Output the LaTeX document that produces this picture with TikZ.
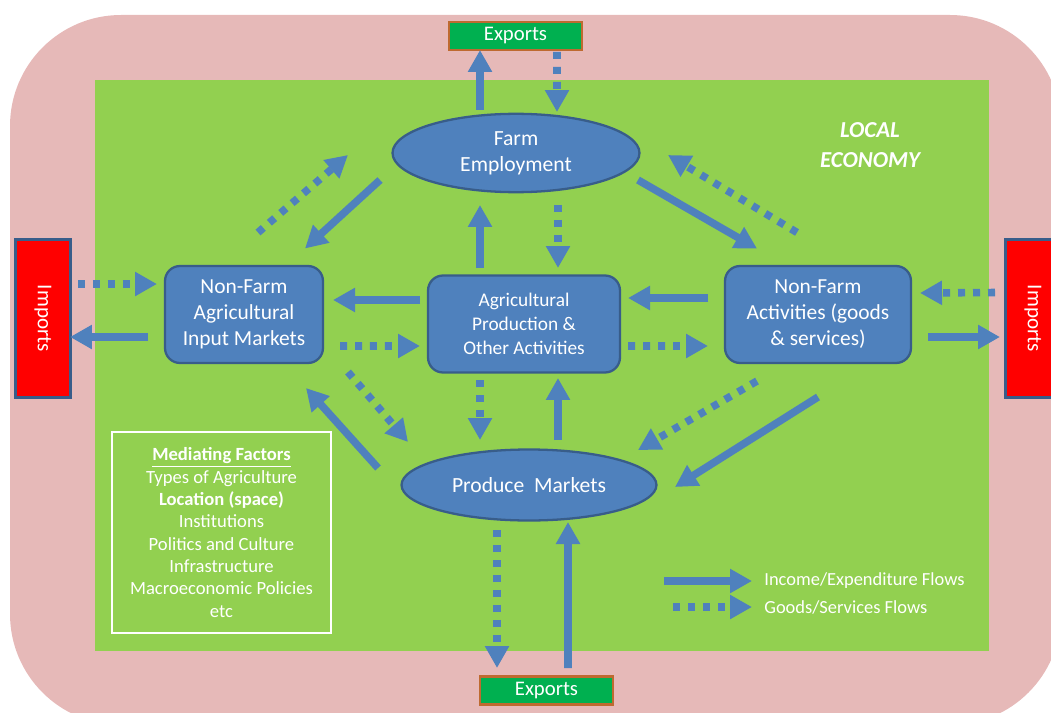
\documentclass[tikz,border=0pt]{standalone}
\usepackage{fontspec}
\setmainfont{Carlito}
\usetikzlibrary{calc,arrows.meta,shapes.geometric}

\definecolor{outerPink}{HTML}{E6B9B8}
\definecolor{localGreen}{HTML}{92D050}
\definecolor{blueFill}{HTML}{4F81BD}
\definecolor{blueLine}{HTML}{385D8A}
\definecolor{exportFill}{HTML}{00B050}
\definecolor{exportLine}{HTML}{BE6A30}

\begin{document}
\begin{tikzpicture}[
        x=0.02cm, y=-0.02cm,
        market/.style={
            ellipse,
            draw=blueLine,
            fill=blueFill,
            line width=1.3pt,
            minimum height=1.42cm,
            text=white,
            align=center,
            font=\fontsize{12.3}{15}\selectfont,
        },
        sector/.style={
            rectangle,
            rounded corners=0.3cm,
            draw=blueLine,
            fill=blueFill,
            line width=1.3pt,
            minimum height=1.94cm,
            text=white,
            align=center,
            font=\fontsize{12.2}{14.8}\selectfont,
        },
        exportbox/.style={
            rectangle,
            draw=exportLine,
            fill=exportFill,
            line width=1.5pt,
            minimum width=2.66cm,
            minimum height=0.56cm,
            inner sep=0pt,
            text=white,
            font=\fontsize{11.8}{13}\selectfont,
        },
        importbox/.style={
            rectangle,
            draw=blueLine,
            fill=red,
            line width=1.3pt,
            rotate=-90,
            minimum width=3.16cm,
            minimum height=1.1cm,
            text=white,
            font=\fontsize{12}{14}\selectfont,
        },
        income/.style={
            draw=blueFill,
            line width=4.3pt,
            -{Triangle[width=0.46cm,length=0.44cm]},
        },
        goods/.style={
            income,
            dash pattern=on 0.14cm off 0.16cm,
        },
    ]

    \useasboundingbox (0,0) rectangle (1051,713);
    \clip (0,0) rectangle (1051,713);

    % background
    \fill [outerPink, rounded corners=2.22cm] (10,15) rectangle (1061,725);
    \fill [localGreen] (95,80) rectangle (989,651);

    \node (farm) at (516,153) [market, minimum width=4.94cm] {Farm\\Employment};
    \node (produce) at (529,485) [market, minimum width=5.1cm] {Produce~~Markets};
    \node (inputs) at (244,314.5) [sector, minimum width=3.16cm] {Non-Farm\\Agricultural\\Input Markets};
    \node (agprod) at (524,324) [sector, minimum width=3.84cm,
        font=\fontsize{11}{13.6}\selectfont] {Agricultural\\Production \&\\Other Activities};
    \node (nonfarm) at (818,314.5) [sector, minimum width=3.72cm] {Non-Farm\\Activities (goods\\\& services)};

    \node (exptop) at (515.5,36) [exportbox] {Exports};
    \node (expbot) at (546.5,690.5) [exportbox] {Exports};
    \node (impleft) at (43,318.5) [importbox] {Imports};
    \node (impright) at (1033,318.5) [importbox] {Imports};

    \node (local) at (870,145) [text=white, align=center,
        font=\fontsize{13}{17}\selectfont\bfseries\itshape] {LOCAL\\ECONOMY};

    \node (factors) at (221.5,532.5) [draw=white, line width=1.5pt,
        minimum width=4.38cm, minimum height=4.02cm, text=white, align=center,
        font=\fontsize{10.6}{12.7}\selectfont] {\underline{\textbf{Mediating Factors}}\\Types of Agriculture\\\textbf{Location (space)}\\Institutions\\Politics and Culture\\Infrastructure\\Macroeconomic Policies\\etc};

    % exports above
    \draw [income] ($(farm)+(-36,-43)$) -- ($(exptop)+(-35.5,14)$);
    \draw [goods] ($(exptop)+(41.5,16)$) -- ($(farm)+(41,-41)$);

    % farm employment links
    \draw [income] ($(farm)+(-136,27)$) -- ($(inputs)+(61,-66)$);
    \draw [goods] ($(inputs)+(14,-82)$) -- ($(farm)+(-168,2)$);
    \draw [income] ($(farm)+(122,27)$) -- ($(nonfarm)+(-61,-66)$);
    \draw [goods] ($(nonfarm)+(-21,-82)$) -- ($(farm)+(152,2)$);
    \draw [income] ($(agprod)+(-44,-56)$) -- ($(farm)+(-36,52)$);
    \draw [goods] ($(farm)+(42,52)$) -- ($(agprod)+(34,-56)$);

    % middle row
    \draw [income] ($(agprod)+(-104,-24)$) -- ($(inputs)+(89,-14.5)$);
    \draw [goods] ($(inputs)+(96,31.5)$) -- ($(agprod)+(-104,22)$);
    \draw [income] ($(nonfarm)+(-110,-16.5)$) -- ($(agprod)+(104,-26)$);
    \draw [goods] ($(agprod)+(104,22)$) -- ($(nonfarm)+(-110,31.5)$);

    % imports
    \draw [goods] ($(impleft)+(35,-34.5)$) -- ($(inputs)+(-87,-30.5)$);
    \draw [income] ($(inputs)+(-96,22.5)$) -- ($(impleft)+(27,18.5)$);
    \draw [goods] ($(impright)+(-38,-26)$) -- ($(nonfarm)+(102,-21.5)$);
    \draw [income] ($(nonfarm)+(110,22.5)$) -- ($(impright)+(-33,18.5)$);

    % produce markets links
    \draw [goods] ($(agprod)+(-44,56)$) -- ($(produce)+(-49,-45)$);
    \draw [income] ($(produce)+(29,-45)$) -- ($(agprod)+(34,54)$);
    \draw [income] ($(produce)+(-151,-17)$) -- ($(inputs)+(62,73.5)$);
    \draw [goods] ($(inputs)+(104,57.5)$) -- ($(produce)+(-121,-43)$);
    \draw [goods] ($(nonfarm)+(-61,66.5)$) -- ($(produce)+(109,-35)$);
    \draw [income] ($(nonfarm)+(0,82.5)$) -- ($(produce)+(146,2)$);

    % exports below
    \draw [goods] ($(produce)+(-32,45)$) -- ($(expbot)+(-49.5,-22.5)$);
    \draw [income] ($(expbot)+(21.5,-22.5)$) -- ($(produce)+(39,37)$);

    % legend
    \node (legIncome) at (764,581) [anchor=west, inner sep=0pt, text=white,
        font=\fontsize{10.5}{12}\selectfont] {Income/Expenditure Flows};
    \node (legGoods) at (764,607) [anchor=west, inner sep=0pt, text=white,
        font=\fontsize{10.5}{12}\selectfont] {Goods/Services Flows};
    \draw [income] ($(legIncome.west)+(-100,0)$) -- ($(legIncome.west)+(-12,0)$);
    \draw [goods] ($(legGoods.west)+(-91,0)$) -- ($(legGoods.west)+(-12,0)$);

\end{tikzpicture}
\end{document}
